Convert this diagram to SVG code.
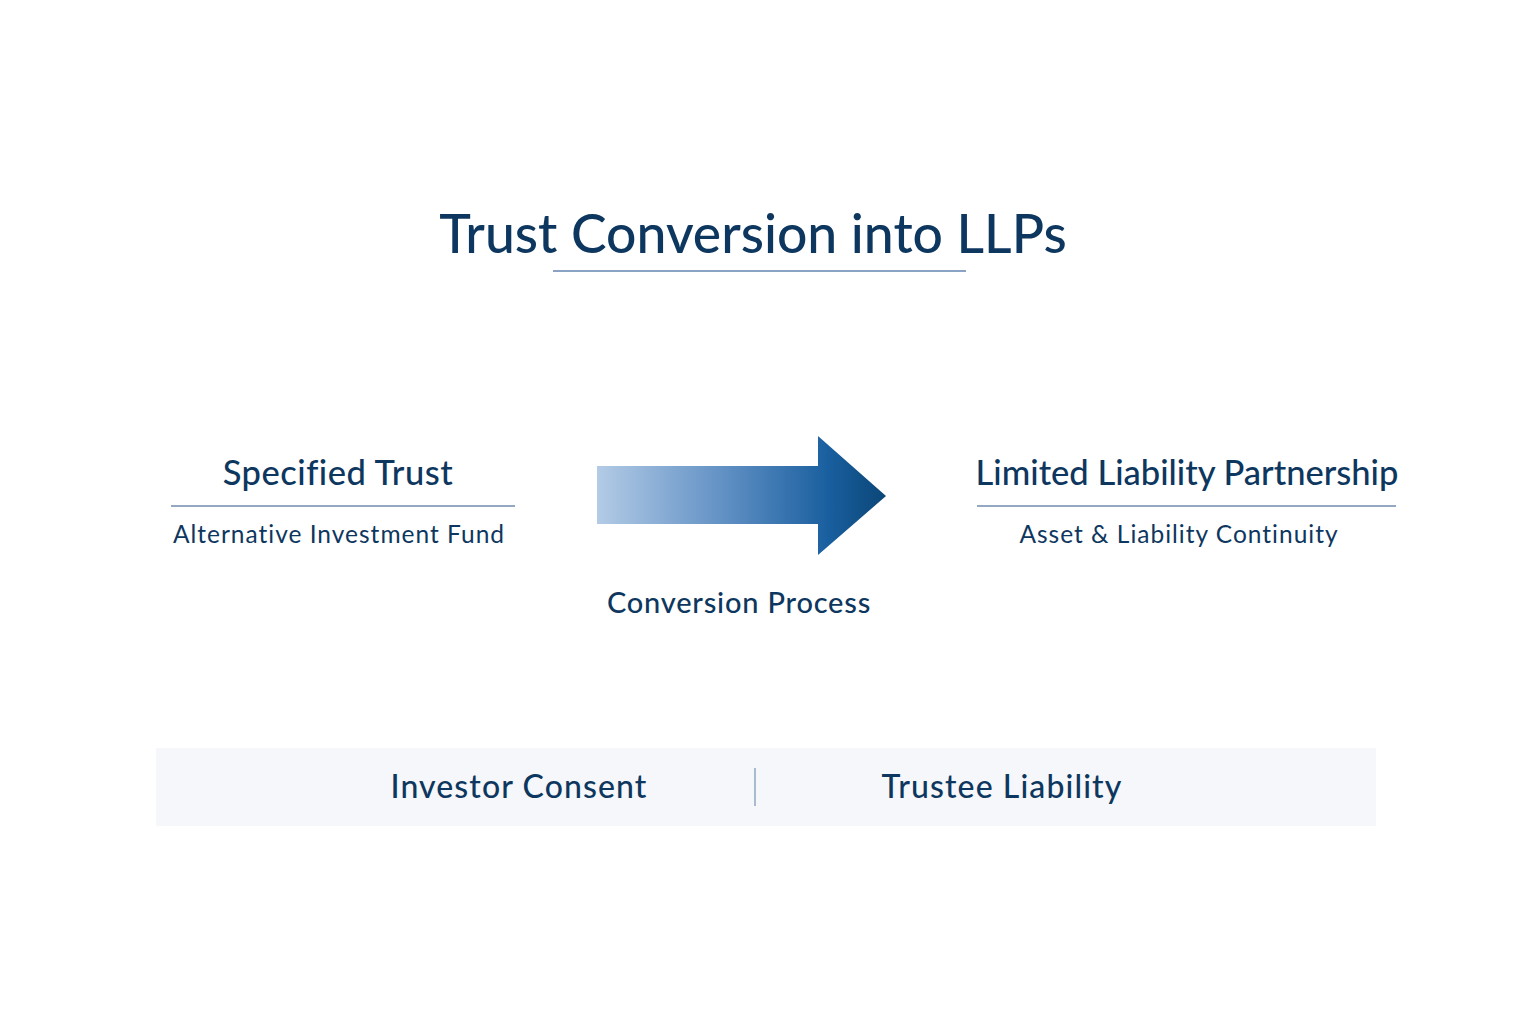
<svg xmlns="http://www.w3.org/2000/svg" width="1536" height="1024" viewBox="0 0 1536 1024">
<defs>
<linearGradient id="ag" x1="597" y1="0" x2="886" y2="0" gradientUnits="userSpaceOnUse">
<stop offset="0" stop-color="#b3cbe6"/>
<stop offset="0.45" stop-color="#5f8fc3"/>
<stop offset="0.8" stop-color="#195f9f"/>
<stop offset="1" stop-color="#0b4677"/>
</linearGradient>
<style>
text{font-family:Lato,"Liberation Sans",sans-serif;fill:#0e3760;text-anchor:middle}
.h{font-size:34.5px;font-weight:500}
.s{font-size:24.5px;letter-spacing:1px}
.f{font-size:32px;font-weight:500;letter-spacing:1.1px}
.rule{stroke:#6f8bad;stroke-width:1.5}
</style>
</defs>
<rect width="1536" height="1024" fill="#ffffff"/>
<g id="title">
<text x="753" y="253" style="font-size:53.5px;font-weight:500">Trust Conversion into LLPs</text>
<line x1="553" y1="271" x2="966" y2="271" stroke="#8aa3c4" stroke-width="2"/>
</g>
<g id="node-trust">
<text class="h" x="338" y="485" style="letter-spacing:0.5px">Specified Trust</text>
<line class="rule" x1="171" y1="506" x2="515" y2="506"/>
<text class="s" x="339" y="543">Alternative Investment Fund</text>
</g>
<g id="node-llp">
<text class="h" x="1187" y="485">Limited Liability Partnership</text>
<line class="rule" x1="977" y1="506" x2="1396" y2="506"/>
<text class="s" x="1179" y="543">Asset &amp; Liability Continuity</text>
</g>
<g id="connectors">
<polygon points="597,466 818,466 818,436 886,496 818,555 818,524 597,524" fill="url(#ag)"/>
<text x="739" y="613" style="font-size:29px;font-weight:500;letter-spacing:0.8px">Conversion Process</text>
</g>
<g id="footer">
<rect x="156" y="748" width="1220" height="78" fill="#f5f7fa"/>
<line x1="755" y1="768" x2="755" y2="806" stroke="#7a93b3" stroke-width="1.2"/>
<text class="f" x="519" y="798">Investor Consent</text>
<text class="f" x="1002" y="798">Trustee Liability</text>
</g>
</svg>
